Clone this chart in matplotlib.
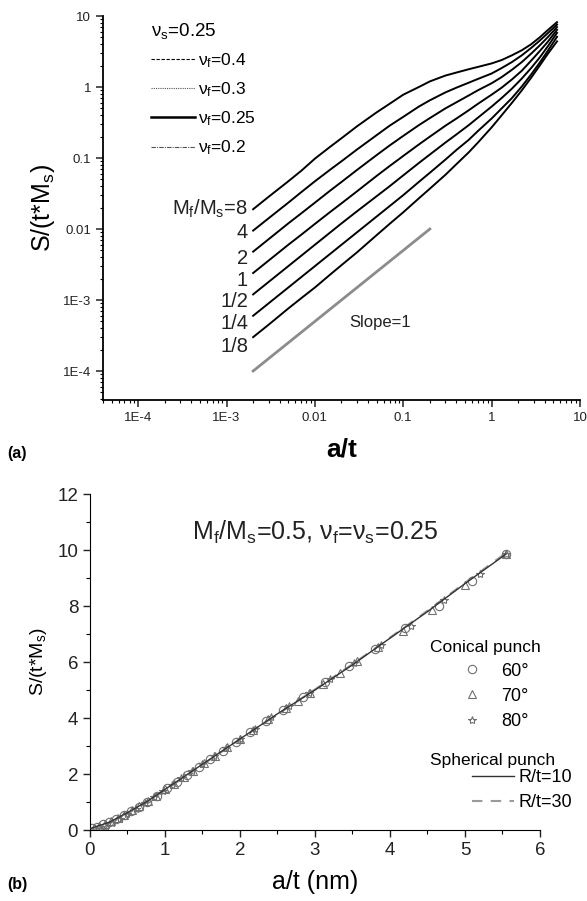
import matplotlib
matplotlib.use("Agg")
import matplotlib.pyplot as plt
from matplotlib.lines import Line2D
from matplotlib.ticker import FixedLocator, FixedFormatter, LogLocator, MultipleLocator, NullFormatter

plt.rcParams['font.family'] = ['Liberation Sans', 'DejaVu Sans']
plt.rcParams['mathtext.fontset'] = 'custom'
plt.rcParams['mathtext.rm'] = 'Liberation Sans'
plt.rcParams['mathtext.it'] = 'Liberation Sans:italic'
plt.rcParams['mathtext.bf'] = 'Liberation Sans:bold'

# ---- datos panel (a): S/(t*Ms) vs a/t, log-log ----
at_log = [0.002, 0.003, 0.005, 0.007, 0.01, 0.015, 0.02, 0.03, 0.05, 0.07, 0.1, 0.15, 0.2,
          0.3, 0.4, 0.55, 0.7, 1.0, 1.3, 1.7, 2.2, 2.8, 3.5, 4.3, 5.5]
ratios = ["M$_\\mathrm{f}$/M$_\\mathrm{s}$=8", "4", "2", "1", "1/2", "1/4", "1/8"]
s_m8 = [0.019, 0.0285, 0.047, 0.066, 0.098, 0.145, 0.19, 0.28, 0.44, 0.58, 0.78, 1.0, 1.2,
        1.45, 1.6, 1.78, 1.92, 2.15, 2.4, 2.8, 3.3, 4.0, 5.0, 6.3, 8.2]
s_m4 = [0.0095, 0.0142, 0.0235, 0.033, 0.047, 0.069, 0.09, 0.132, 0.21, 0.285, 0.38, 0.53, 0.65,
        0.84, 0.98, 1.15, 1.3, 1.55, 1.85, 2.25, 2.8, 3.55, 4.5, 5.7, 7.6]
s_m2 = [0.0048, 0.0072, 0.012, 0.0166, 0.0235, 0.035, 0.046, 0.068, 0.11, 0.15, 0.205, 0.29, 0.365,
        0.5, 0.61, 0.76, 0.9, 1.13, 1.38, 1.75, 2.25, 2.95, 3.85, 5.0, 7.0]
s_m1 = [0.0024, 0.0036, 0.006, 0.0083, 0.0118, 0.0175, 0.023, 0.034, 0.056, 0.077, 0.107, 0.155, 0.2,
        0.285, 0.36, 0.47, 0.58, 0.78, 0.98, 1.28, 1.7, 2.35, 3.2, 4.3, 6.4]
s_m05 = [0.0012, 0.0018, 0.003, 0.0042, 0.006, 0.009, 0.012, 0.0178, 0.029, 0.04, 0.057, 0.085, 0.112,
         0.165, 0.215, 0.29, 0.37, 0.53, 0.7, 0.95, 1.32, 1.85, 2.6, 3.7, 5.8]
s_m025 = [0.0006, 0.0009, 0.0015, 0.0021, 0.003, 0.0045, 0.006, 0.009, 0.015, 0.021, 0.03, 0.046, 0.062,
          0.095, 0.13, 0.18, 0.24, 0.36, 0.5, 0.7, 1.02, 1.5, 2.2, 3.2, 5.1]
s_m0125 = [0.0003, 0.00045, 0.00076, 0.00106, 0.0015, 0.0023, 0.0031, 0.0047, 0.0082, 0.0118, 0.0172,
           0.027, 0.037, 0.058, 0.082, 0.12, 0.165, 0.27, 0.4, 0.6, 0.9, 1.35, 2.0, 2.9, 4.4]
curvas = [s_m8, s_m4, s_m2, s_m1, s_m05, s_m025, s_m0125]
label_y = [0.0191, 0.0088, 0.0039, 0.00191, 0.00094, 0.00047, 0.000218]

slope_x = [0.002, 0.2]
slope_y = [0.0001, 0.01]

nu_labels = ["ν$_\\mathrm{f}$=0.4", "ν$_\\mathrm{f}$=0.3", "ν$_\\mathrm{f}$=0.25", "ν$_\\mathrm{f}$=0.2"]
log_ticks = [1e-4, 1e-3, 0.01, 0.1, 1, 10]
log_tick_labels = ["1E-4", "1E-3", "0.01", "0.1", "1", "10"]

# ---- datos panel (b): lineal ----
c60_x = [0.03, 0.1, 0.18, 0.26, 0.35, 0.45, 0.55, 0.65, 0.76, 0.9, 1.03, 1.16, 1.3, 1.45, 1.6, 1.77,
         1.95, 2.14, 2.35, 2.58, 2.84, 3.13, 3.45, 3.8, 4.2, 4.65, 5.1, 5.55]
c60_y = [0.06, 0.12, 0.2, 0.28, 0.39, 0.53, 0.67, 0.82, 1.0, 1.23, 1.5, 1.72, 1.98, 2.25, 2.52, 2.83,
         3.16, 3.5, 3.88, 4.3, 4.76, 5.28, 5.85, 6.45, 7.2, 8.0, 8.9, 9.86]
c70_x = [0.05, 0.12, 0.2, 0.28, 0.37, 0.46, 0.56, 0.66, 0.77, 0.88, 1.0, 1.12, 1.25, 1.38, 1.52, 1.67,
         1.83, 2.0, 2.18, 2.38, 2.62, 2.77, 2.93, 3.11, 3.33, 3.56, 3.84, 4.17, 4.56, 5.0, 5.55]
c70_y = [0.08, 0.14, 0.22, 0.31, 0.42, 0.55, 0.7, 0.85, 1.02, 1.2, 1.45, 1.65, 1.9, 2.12, 2.38, 2.65,
         2.95, 3.25, 3.58, 3.95, 4.36, 4.62, 4.9, 5.22, 5.6, 6.02, 6.52, 7.12, 7.85, 8.75, 9.86]
c80_x = [0.15, 0.22, 0.3, 0.4, 0.5, 0.62, 0.74, 0.86, 0.98, 1.1, 1.22, 1.36, 1.5, 1.65, 1.82, 2.0,
         2.2, 2.42, 2.66, 2.92, 3.2, 3.52, 3.88, 4.28, 4.72, 5.2, 5.55]
c80_y = [0.03, 0.12, 0.25, 0.4, 0.56, 0.76, 0.97, 1.18, 1.4, 1.62, 1.85, 2.1, 2.35, 2.63, 2.93, 3.25,
         3.62, 4.02, 4.44, 4.9, 5.4, 5.95, 6.6, 7.3, 8.2, 9.15, 9.86]
sph_x = [0, 0.25, 0.5, 0.75, 1.0, 1.5, 2.0, 2.5, 3.0, 3.5, 4.0, 4.5, 5.0, 5.55]
sph10_y = [0.05, 0.27, 0.62, 1.0, 1.45, 2.35, 3.25, 4.15, 5.0, 5.9, 6.85, 7.8, 8.8, 9.86]
sph30_y = [0.0, 0.22, 0.58, 0.98, 1.42, 2.33, 3.24, 4.13, 5.02, 5.92, 6.87, 7.83, 8.83, 9.9]

fig = plt.figure(figsize=(5.87, 9.01), dpi=100)

# ================= panel (a) =================
ax1 = fig.add_axes([0.1755, 0.556, 0.8125, 0.4262])
for s in curvas:
    ax1.plot(at_log, s, color='black', lw=1.4)
ax1.plot(slope_x, slope_y, color='#8c8c8c', lw=2.0)
ax1.set_xscale('log')
ax1.set_yscale('log')
ax1.set_xlim(4e-5, 10)
ax1.set_ylim(3.9e-5, 10)
for a in ['top', 'right']:
    ax1.spines[a].set_visible(False)
for a in ['left', 'bottom']:
    ax1.spines[a].set_linewidth(1.3)
for axis in [ax1.xaxis, ax1.yaxis]:
    axis.set_major_locator(FixedLocator(log_ticks))
    axis.set_major_formatter(FixedFormatter(log_tick_labels))
    axis.set_minor_locator(LogLocator(base=10, subs=range(2, 10), numticks=20))
    axis.set_minor_formatter(NullFormatter())
ax1.tick_params(which='major', direction='out', length=5, width=1.1, labelsize=9.5, colors='#222222')
ax1.tick_params(which='minor', direction='out', length=2.5, width=0.8)
ax1.set_xlabel("a/t", fontsize=19, fontweight='bold', labelpad=10)
ax1.set_ylabel("S/(t*M$_\\mathrm{s}$)", fontsize=18, labelpad=4)

for lab, yy in zip(ratios, label_y):
    ax1.text(1.75e-3, yy, lab, fontsize=14.5, ha='right', va='center', color='#222222')
ax1.text(0.055, 4.9e-4, "Slope=1", fontsize=12, ha='center', va='center', color='#222222')

nu_handles = [Line2D([], [], color='black', lw=0.8, ls=(0, (3, 1.5))),
              Line2D([], [], color='#555555', lw=0.8, ls=(0, (1, 1))),
              Line2D([], [], color='black', lw=1.8, ls='-'),
              Line2D([], [], color='#555555', lw=0.8, ls=(0, (4, 1, 1, 1)))]
leg1 = ax1.legend(nu_handles, nu_labels, title="ν$_\\mathrm{s}$=0.25", loc='upper left',
                  bbox_to_anchor=(0.083, 1.01), frameon=False, fontsize=12.5, title_fontsize=13.5,
                  handlelength=2.5, handletextpad=0.2, labelspacing=0.6, borderpad=0, alignment='left')

# ================= panel (b) =================
ax2 = fig.add_axes([0.1533, 0.0788, 0.7666, 0.3729])
ax2.plot(sph_x, sph10_y, color='#333333', lw=1.0, zorder=3)
ax2.plot(sph_x, sph30_y, color='#9a9a9a', lw=1.5, ls=(0, (5, 4)), zorder=2)
mk = dict(ls='none', mfc='none', mec='#707070', mew=0.8, ms=6)
ax2.plot(c60_x, c60_y, marker='o', **mk)
ax2.plot(c70_x, c70_y, marker='^', **mk)
ax2.plot(c80_x, c80_y, marker='*', **mk)
ax2.set_xlim(0, 6)
ax2.set_ylim(0, 12)
for a in ['top', 'right']:
    ax2.spines[a].set_visible(False)
ax2.xaxis.set_major_locator(MultipleLocator(1))
ax2.xaxis.set_minor_locator(MultipleLocator(0.5))
ax2.yaxis.set_major_locator(MultipleLocator(2))
ax2.yaxis.set_minor_locator(MultipleLocator(1))
ax2.tick_params(which='major', direction='out', length=5, width=1.0, labelsize=13.5, colors='#222222')
ax2.tick_params(which='minor', direction='out', length=3, width=0.8)
ax2.set_xlabel("a/t (nm)", fontsize=18, labelpad=8)
ax2.set_ylabel("S/(t*M$_\\mathrm{s}$)", fontsize=14, labelpad=6)
ax2.text(0.5, 0.885, "M$_\\mathrm{f}$/M$_\\mathrm{s}$=0.5, ν$_\\mathrm{f}$=ν$_\\mathrm{s}$=0.25",
         transform=ax2.transAxes, fontsize=18, ha='center', va='center', color='#222222')

ax2.text(0.756, 0.542, "Conical punch", transform=ax2.transAxes, fontsize=12.5, va='center')
ax2.text(0.756, 0.208, "Spherical punch", transform=ax2.transAxes, fontsize=12.5, va='center')
cone_handles = [Line2D([], [], marker=m, **mk) for m in ['o', '^', '*']]
leg_c = ax2.legend(cone_handles, ["60°", "70°", "80°"], loc='upper left', bbox_to_anchor=(0.809, 0.498),
                   frameon=False, fontsize=13, handlelength=2.0, handletextpad=0.6, labelspacing=0.45,
                   borderpad=0, borderaxespad=0)
ax2.add_artist(leg_c)
sph_handles = [Line2D([], [], color='#333333', lw=1.0),
               Line2D([], [], color='#9a9a9a', lw=1.5, ls=(0, (5, 4)))]
ax2.legend(sph_handles, ["R/t=10", "R/t=30"], loc='upper left', bbox_to_anchor=(0.849, 0.182),
           frameon=False, fontsize=13, handlelength=2.3, handletextpad=0.3, labelspacing=0.45,
           borderpad=0, borderaxespad=0)

fig.text(0.012, 0.497, "(a)", fontsize=11.5, fontweight='bold', va='center')
fig.text(0.012, 0.018, "(b)", fontsize=11.5, fontweight='bold', va='center')

fig.savefig("out.png", dpi=100)
